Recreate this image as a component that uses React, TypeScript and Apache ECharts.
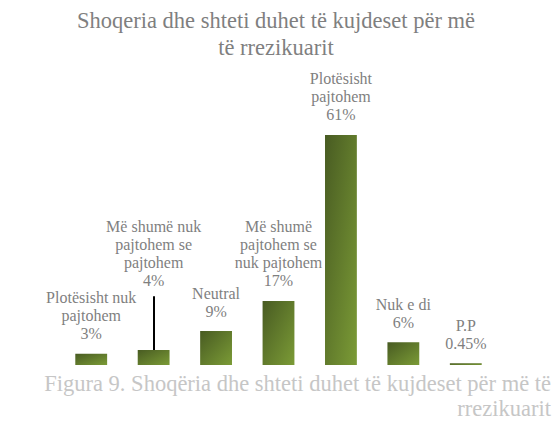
import React, { useEffect, useRef } from "react";
import * as echarts from "echarts";

const categories: string[] = [
  "Plotësisht nuk\npajtohem",
  "Më shumë nuk\npajtohem se\npajtohem",
  "Neutral",
  "Më shumë\npajtohem se\nnuk pajtohem",
  "Plotësisht\npajtohem",
  "Nuk e di",
  "P.P",
];
const values: number[] = [3, 4, 9, 17, 61, 6, 0.45];
const valueLabels: string[] = ["3%", "4%", "9%", "17%", "61%", "6%", "0.45%"];

const chartTitle = "Shoqeria dhe shteti duhet të kujdeset për më\ntë rrezikuarit";
const captionLine1 = "Figura 9. Shoqëria dhe shteti duhet të kujdeset për më të";
const captionLine2 = "rrezikuarit";

export default function App() {
  const ref = useRef<HTMLDivElement>(null);
  useEffect(() => {
    if (!ref.current) return;
    const chart = echarts.init(ref.current, null, { renderer: "svg" });
    const font = "Liberation Serif";
    const gradient = new echarts.graphic.LinearGradient(0, 0, 1, 1, [
      { offset: 0, color: "#485b22" },
      { offset: 1, color: "#7b9b36" },
    ]);
    const captionStyle = {
      align: "right",
      verticalAlign: "middle",
      fontFamily: font,
      fontSize: 22.5,
      fill: "#c6c6c6",
    };
    chart.setOption({
      animation: false,
      backgroundColor: "#ffffff",
      title: {
        text: chartTitle,
        left: "center",
        top: 2,
        textStyle: {
          fontFamily: font,
          fontSize: 22.5,
          fontWeight: "normal",
          color: "#7f7f7f",
          lineHeight: 27,
        },
      },
      graphic: [
        {
          type: "text",
          x: 551,
          y: 383,
          style: { ...captionStyle, text: captionLine1 },
        },
        {
          type: "text",
          x: 551,
          y: 408.5,
          style: { ...captionStyle, text: captionLine2 },
        },
      ],
      grid: { left: 60, right: 55, top: 101, bottom: 56 },
      xAxis: {
        type: "category",
        data: categories,
        show: false,
      },
      yAxis: { type: "value", min: 0, max: 70, show: false },
      series: [
        {
          type: "bar",
          barWidth: "51%",
          itemStyle: { color: gradient },
          data: values.map((v, i) =>
            i === 1 ? { value: v, label: { offset: [0, -49] } } : { value: v }
          ),
          label: {
            show: true,
            position: "top",
            distance: 11,
            fontFamily: font,
            fontSize: 16,
            lineHeight: 18,
            color: "#7f7f7f",
            align: "center",
            formatter: (p: any) => categories[p.dataIndex] + "\n" + valueLabels[p.dataIndex],
          },
          markLine: {
            silent: true,
            symbol: ["none", "none"],
            label: { show: false },
            lineStyle: { color: "#000000", width: 2, type: "solid" },
            data: [[{ coord: [1, values[1]] }, { coord: [1, 18.2] }]],
          },
        },
      ],
    });
    return () => chart.dispose();
  }, []);
  return (
    <div
      ref={ref}
      style={{ position: "fixed", left: 0, top: 0, width: 552, height: 421 }}
    />
  );
}
